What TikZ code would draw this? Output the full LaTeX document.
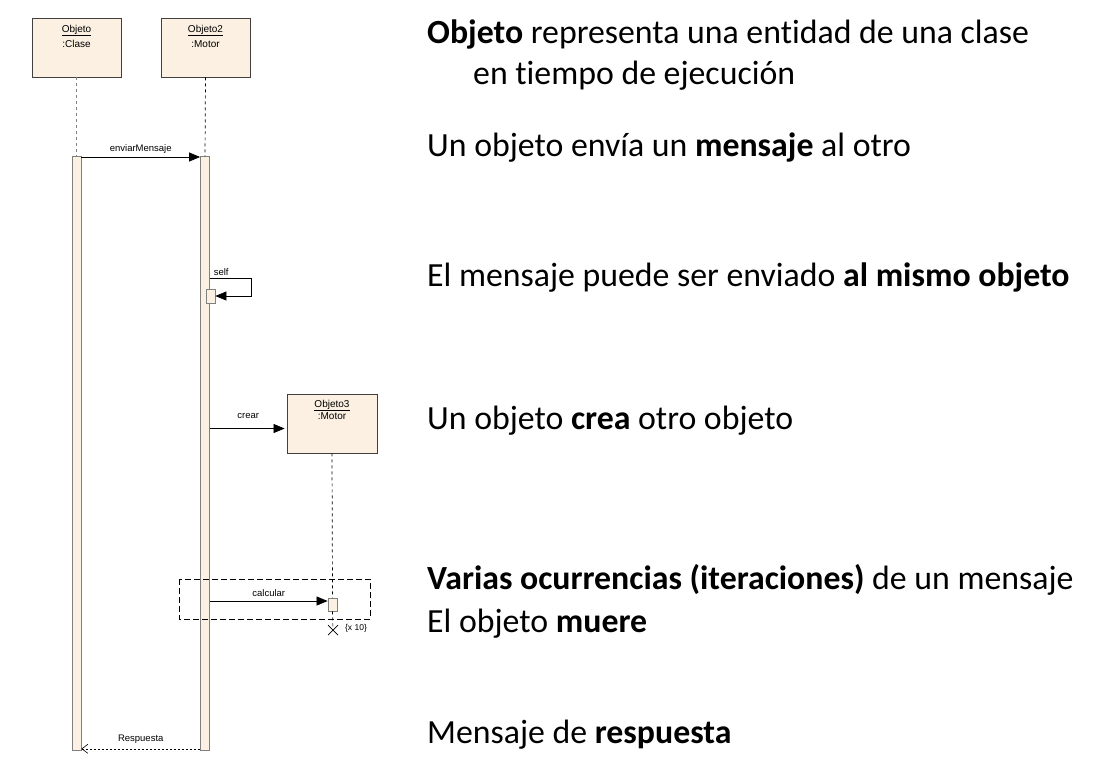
\documentclass[tikz,border=0pt]{standalone}
\usepackage{fontspec}
\setmainfont[Ligatures=NoCommon]{Carlito}
\newfontfamily\umlfont{Liberation Sans}
\usetikzlibrary{arrows.meta,positioning}
\definecolor{lifefill}{HTML}{FBF0E1}
\tikzset{
  objbox/.style={draw=black!75, fill=lifefill, minimum width=89pt, minimum height=59pt, inner sep=0pt, line width=0.8pt},
  objtext/.style={font=\umlfont\fontsize{10}{15}\selectfont, align=center, inner sep=0pt},
  actbar/.style={draw=black!50, fill=lifefill, line width=0.8pt, inner sep=0pt, minimum width=9pt},
  lifeline/.style={dash pattern=on 3pt off 3pt, line width=0.7pt},
  msg/.style={-{Triangle[length=11pt,width=9pt]}, line width=0.7pt},
  reply/.style={-{Straight Barb[length=6pt,width=9pt]}, dash pattern=on 2pt off 2pt, line width=0.6pt},
  msglabel/.style={font=\umlfont\fontsize{9.5}{11}\selectfont, inner sep=1.5pt},
  desc/.style={font=\fontsize{33.8}{40}\selectfont, anchor=base west, inner sep=0pt},
}
\begin{document}
\begin{tikzpicture}[x=1pt, y=-1pt]
    \useasboundingbox (0,0) rectangle (1102,772);

    % --- Objetos ---
    \node[objbox] (obj1) at (76.5,47.5) {};
    \node[objtext, below=7pt of obj1.north] (obj1txt) {\underline{Objeto}\\:Clase};
    \node[objbox] (obj2) at (205.5,47.5) {};
    \node[objtext, below=7pt of obj2.north] (obj2txt) {\underline{Objeto2}\\:Motor};

    % --- Barras de activacion ---
    \node[actbar, minimum height=594pt, anchor=north] (act1) at (76.5,156) {};
    \node[actbar, minimum height=594pt, anchor=north] (act2) at (205,156) {};
    \draw[lifeline, black!50] (obj1.south) -- (act1.north);
    \draw[lifeline] (obj2.south) -- (act2.north);

    % --- enviarMensaje ---
    \draw[msg] ([yshift=-1pt]act1.north east) -- ([yshift=-1pt]act2.north west)
        node[msglabel, midway, above=2pt] {enviarMensaje};

    % --- self ---
    \coordinate (selfa) at (act2.east |- 0,278);
    \node[actbar, minimum width=9pt, minimum height=14pt] (selfact) at (210.5,296) {};
    \draw[msg] (selfa) node[msglabel, above right, xshift=2pt, yshift=1pt] {self} -- ++(41,0) |- (selfact.east);

    % --- crear ---
    \node[objbox, minimum width=90pt] (obj3) at (332,423.5) {};
    \node[objtext, font=\umlfont\fontsize{10}{12}\selectfont, below=6pt of obj3.north] (obj3txt) {\underline{Objeto3}\\:Motor};
    \coordinate (crearend) at ([yshift=-5pt]obj3.west);
    \draw[msg, shorten >=2pt] (act2.east |- crearend) -- (crearend)
        node[msglabel, midway, above=8pt] {crear};

    % --- calcular (iteracion) ---
    \node[actbar, minimum height=13pt] (calcact) at (332.5,604.5) {};
    \coordinate (xmark) at (333,630);
    \draw[lifeline] (obj3.south) -- (calcact.north);
    \draw[lifeline] (calcact.south) -- (xmark);
    \draw[line width=0.7pt] ([shift={(-5,-5)}]xmark) -- ([shift={(5,5)}]xmark)
        ([shift={(-5,5)}]xmark) -- ([shift={(5,-5)}]xmark);
    \coordinate (calcend) at ([yshift=3.5pt]calcact.west);
    \draw[msg] (act2.east |- calcend) -- (calcend)
        node[msglabel, midway, above=3pt] {calcular};
    \draw[dash pattern=on 6pt off 3pt, line width=0.7pt] (179,579) rectangle (370,619);
    \node[msglabel, font=\umlfont\fontsize{8.5}{10}\selectfont] (iter) at (356,628) {\{x 10\}};

    % --- Respuesta ---
    \draw[reply] ([yshift=2pt]act2.south west) -- ([yshift=2pt]act1.south east)
        node[msglabel, midway, above=4pt] {Respuesta};

    % --- Texto explicativo ---
    \node[desc] (t1) at (427,43) {\textbf{Objeto} representa una entidad de una clase};
    \node[desc] (t2) at (473,84) {en tiempo de ejecución};
    \node[desc] (t3) at (427,156) {Un objeto envía un \textbf{mensaje} al otro};
    \node[desc] (t4) at (427,286) {El mensaje puede ser enviado \textbf{al mismo objeto}};
    \node[desc] (t5) at (427,429) {Un objeto \textbf{crea} otro objeto};
    \node[desc] (t6) at (427,589) {\textbf{Varias ocurrencias (iteraciones)} de un mensaje};
    \node[desc] (t7) at (427,632) {El objeto \textbf{muere}};
    \node[desc] (t8) at (427,743) {Mensaje de \textbf{respuesta}};
\end{tikzpicture}
\end{document}
